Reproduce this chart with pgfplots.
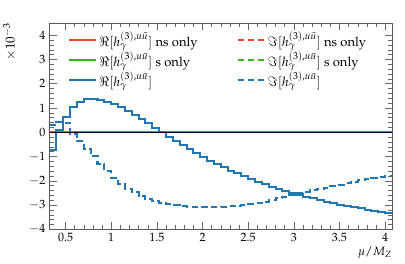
\documentclass[border=0pt,12pt]{standalone}
\usepackage[T1]{fontenc}
\usepackage{mathpazo}
\usepackage{pgfplots}
\usepackage{pgfplotstable}
\pgfplotsset{compat=1.18}
\definecolor{cred}{RGB}{232,70,40}
\definecolor{cgreen}{RGB}{60,180,30}
\definecolor{cblue}{RGB}{31,119,180}
\pgfplotstableread{
x re im
0.325 -0.75 0.29
0.400 0.08 0.43
0.475 0.62 0.40
0.550 1.05 -0.06
0.625 1.25 -0.38
0.700 1.35 -0.68
0.775 1.37 -1.00
0.850 1.33 -1.30
0.925 1.25 -1.60
1.000 1.15 -1.88
1.075 1.03 -2.12
1.150 0.88 -2.32
1.225 0.72 -2.48
1.300 0.55 -2.62
1.375 0.37 -2.74
1.450 0.18 -2.84
1.525 -0.01 -2.91
1.600 -0.19 -2.96
1.675 -0.37 -3.00
1.750 -0.54 -3.04
1.825 -0.71 -3.07
1.900 -0.87 -3.09
1.975 -1.02 -3.10
2.050 -1.17 -3.10
2.125 -1.31 -3.09
2.200 -1.45 -3.08
2.275 -1.58 -3.06
2.350 -1.70 -3.04
2.425 -1.82 -3.01
2.500 -1.93 -2.97
2.575 -2.04 -2.92
2.650 -2.14 -2.87
2.725 -2.24 -2.81
2.800 -2.33 -2.72
2.875 -2.42 -2.65
2.950 -2.50 -2.58
3.025 -2.58 -2.52
3.100 -2.65 -2.46
3.175 -2.72 -2.40
3.250 -2.79 -2.34
3.325 -2.86 -2.28
3.400 -2.92 -2.22
3.475 -2.98 -2.16
3.550 -3.04 -2.10
3.625 -3.09 -2.04
3.700 -3.14 -1.98
3.775 -3.19 -1.92
3.850 -3.24 -1.87
3.925 -3.29 -1.83
4.000 -3.33 -1.80
4.075 -3.33 -1.80
}\datatab
\pgfplotstableread{
x re im
0.325 0 0
4.075 0 0
}\zerotab
\begin{document}
\begin{tikzpicture}
\begin{axis}[
  width=342pt, height=206pt, scale only axis,
  xmin=0.325, xmax=4.075, ymin=-4, ymax=4.5,
  xtick={0.5,1,...,4}, ytick={-4,-3,...,4},
  minor x tick num=4, minor y tick num=4,
  tick align=inside,
  major tick length=7pt, minor tick length=4pt,
  every tick/.style={gray!80!black},
  axis line style={gray!70!black},
  xlabel={$\mu/M_Z$},
  xlabel style={at={(rel axis cs:1,0)}, anchor=north east, yshift=-17pt, inner sep=0pt},
  legend columns=2,
  legend style={draw=none, fill=none, at={(rel axis cs:0.045,0.98)}, anchor=north west,
    /tikz/every even column/.append style={column sep=37pt}, font=\fontsize{13}{15}\selectfont,
    row sep=-0.5pt},
  legend cell align=left,
  legend image code/.code={\draw[#1] (0cm,0cm) -- (0.95cm,0cm);},
  clip=true,
]
\addplot[cred, line width=2pt, const plot] table[x=x,y=re] {\datatab};
\addlegendentry{$\Re[h_\gamma^{(3),u\bar{u}}]$ ns only}
\addplot[cred, line width=2pt, const plot, dash pattern=on 6.5pt off 3.5pt] table[x=x,y=im] {\datatab};
\addlegendentry{$\Im[h_\gamma^{(3),u\bar{u}}]$ ns only}
\addplot[cgreen, line width=2pt, const plot] table[x=x,y=re] {\zerotab};
\addlegendentry{$\Re[h_\gamma^{(3),u\bar{u}}]$ s only}
\addplot[cgreen, line width=2pt, const plot, dash pattern=on 6.5pt off 3.5pt] table[x=x,y=im] {\zerotab};
\addlegendentry{$\Im[h_\gamma^{(3),u\bar{u}}]$ s only}
\addplot[cblue, line width=2pt, const plot] table[x=x,y=re] {\datatab};
\addlegendentry{$\Re[h_\gamma^{(3),u\bar{u}}]$}
\addplot[cblue, line width=2pt, const plot, dash pattern=on 6.5pt off 3.5pt] table[x=x,y=im] {\datatab};
\addlegendentry{$\Im[h_\gamma^{(3),u\bar{u}}]$}
\addplot[black, line width=1pt, forget plot] table[x=x,y=re] {\zerotab};
\end{axis}
\node[rotate=90, anchor=east, inner sep=0pt, font=\fontsize{13}{15}\selectfont] at ([xshift=-40pt]current axis.north west) {$\times 10^{-3}$};
\path ([xshift=-49.5pt,yshift=-34pt]current axis.south west) ([xshift=13pt,yshift=23pt]current axis.north east);
\end{tikzpicture}
\end{document}
